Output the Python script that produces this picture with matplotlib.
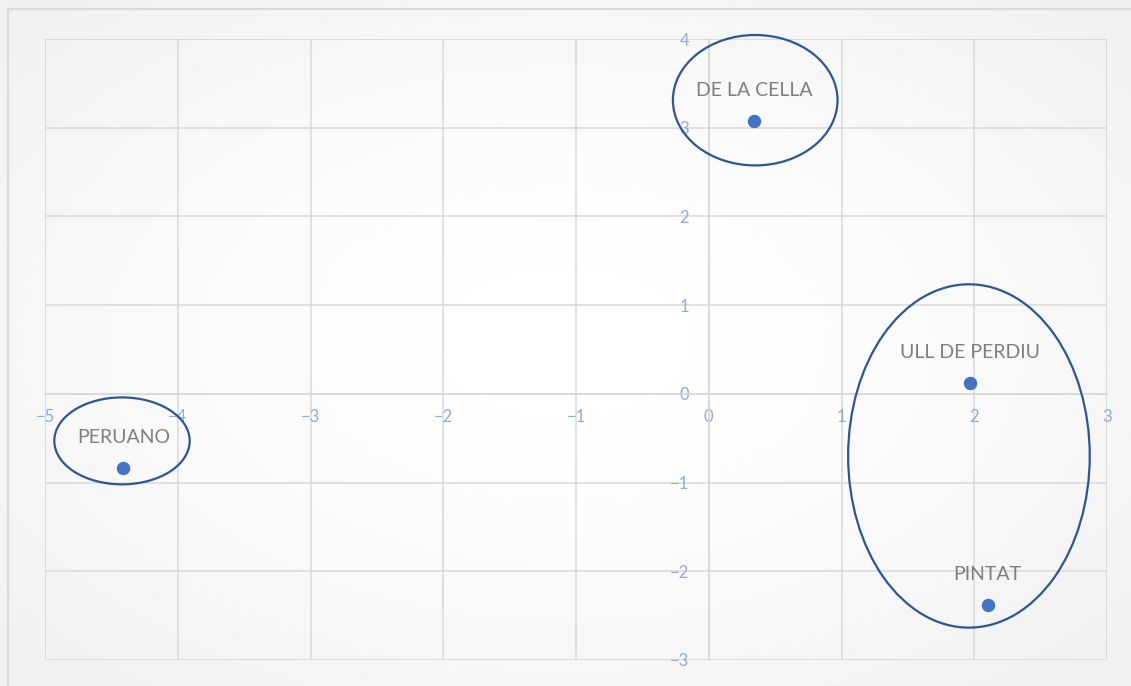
import numpy as np
import matplotlib.pyplot as plt
from matplotlib.patches import Ellipse, Rectangle

# varieties and their scores on the two components
names = ['PERUANO', 'DE LA CELLA', 'ULL DE PERDIU', 'PINTAT']
comp1 = [-4.41, 0.34, 1.97, 2.10]
comp2 = [-0.84, 3.08, 0.12, -2.38]

# groups drawn as ellipses: centre x, centre y, width, height
group_cx = [-4.42, 0.35, 1.96]
group_cy = [-0.53, 3.31, -0.70]
group_w = [1.02, 1.24, 1.82]
group_h = [0.98, 1.47, 3.87]

xticks = list(range(-5, 4))
yticks = list(range(-3, 5))

plt.rcParams['font.family'] = ['Lato', 'DejaVu Sans']

fig = plt.figure(figsize=(11.31, 6.86), dpi=100)

# soft radial background
bg = fig.add_axes([0, 0, 1, 1], zorder=-2)
gx, gy = np.meshgrid(np.linspace(-1, 1, 300), np.linspace(-1, 1, 200))
r = np.clip(np.sqrt(gx**2 + gy**2) / 1.3, 0, 1)
shade = 1.0 - 0.055 * r**1.5
bg.imshow(shade, cmap='gray', vmin=0, vmax=1, aspect='auto',
          extent=[0, 1, 0, 1], interpolation='bilinear')
bg.add_patch(Rectangle((8 / 1131, -0.01), 1.02, 1 - 9 / 686 + 0.01,
                       transform=bg.transAxes, fill=False,
                       edgecolor='#D9D9D9', lw=1.5))
bg.set_xlim(0, 1)
bg.set_ylim(0, 1)
bg.axis('off')

ax = fig.add_axes([45 / 1131, 1 - 660 / 686, (1107 - 45) / 1131, (660 - 39) / 686])
ax.patch.set_alpha(0)

ax.set_xlim(-5, 3)
ax.set_ylim(-3, 4)
ax.set_xticks(xticks)
ax.set_yticks(yticks)

ax.grid(True, color='#D9D9D9', lw=1.1, zorder=0)
for side in ['top', 'right']:
    ax.spines[side].set_visible(False)
ax.spines['left'].set_position(('data', 0))
ax.spines['bottom'].set_position(('data', 0))
for side in ['left', 'bottom']:
    ax.spines[side].set_color('#D9D9D9')
    ax.spines[side].set_linewidth(1.1)

# plot-area border
for xv in [-5, 3]:
    ax.axvline(xv, color='#D9D9D9', lw=1.1, zorder=0)
for yv in [-3, 4]:
    ax.axhline(yv, color='#D9D9D9', lw=1.1, zorder=0)

ax.tick_params(axis='both', length=0, labelsize=12, labelcolor='#8FAADC')
ax.tick_params(axis='x', pad=11)
ax.tick_params(axis='y', pad=14)

ax.scatter(comp1, comp2, s=75, color='#4472C4', zorder=3)

for name, xv, yv in zip(names, comp1, comp2):
    ax.annotate(name, (xv, yv), xytext=(0, 22), textcoords='offset points',
                ha='center', va='center', fontsize=14, color='#7F7F7F', zorder=4)

for cx, cy, w, h in zip(group_cx, group_cy, group_w, group_h):
    ax.add_patch(Ellipse((cx, cy), w, h, fill=False, edgecolor='#2F5597',
                         lw=1.6, zorder=5, clip_on=False))

fig.savefig('out.png', dpi=100)
